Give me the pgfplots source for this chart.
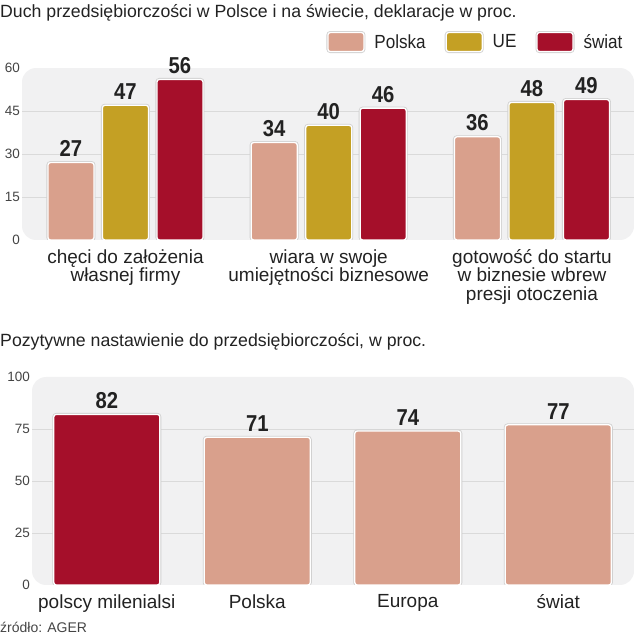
\documentclass[border=0pt]{standalone}
\usepackage{fontspec}
\setmainfont{Liberation Sans}
\newfontfamily\valfontfam[FakeStretch=0.88]{Liberation Sans Bold}
\newfontfamily\legfontfam[FakeStretch=0.9]{Liberation Sans}
\usepackage{pgfplots}
\pgfplotsset{compat=1.18}
\definecolor{cPL}{HTML}{D9A08C}
\definecolor{cUE}{HTML}{C4A024}
\definecolor{cSW}{HTML}{A50F2A}
\definecolor{panelc}{HTML}{F1F1F2}
\definecolor{gridc}{HTML}{DADADA}
\definecolor{tickc}{HTML}{444444}
\definecolor{txtc}{HTML}{222222}
\newcommand\valfont{\valfontfam\fontsize{23}{23}\selectfont}
\newcommand\catfont{\fontsize{19}{18.5}\selectfont}
\newcommand\legfont{\legfontfam\fontsize{19}{18.5}\selectfont}
\newcommand\tickfont{\fontsize{13.5}{14}\selectfont}
\newcommand\titlefont{\fontsize{17.7}{20}\selectfont}
\pgfplotsset{
  mybar/.style={fill=#1, draw=white, line width=1.3pt, rounded corners=2.5pt,
    preaction={draw=black!18, line width=3pt}},
  panel/.style={
    scale only axis, ybar,
    axis line style={draw=none}, tick style={draw=none},
    axis background/.style={fill=panelc, rounded corners=14pt},
    extra y tick style={grid=major, yticklabel={}},
    grid style={color=gridc, line width=0.8pt},
    yticklabel style={font=\tickfont, text=tickc, anchor=east, inner sep=0pt, xshift=-2pt},
    xticklabel style={font=\catfont, align=center, anchor=north, inner sep=0pt, yshift=-5pt, text=txtc},
    /pgf/number format/assume math mode=true,
    nodes near coords,
    every node near coord/.append style={font=\valfont, text=txtc, inner sep=0pt, yshift=5pt},
    legend image code/.code={\draw[#1,/tikz/.cd,rounded corners=2.5pt] (0pt,-9.5pt) rectangle (36pt,9.5pt);},
  }
}
\begin{document}
\begin{tikzpicture}
\useasboundingbox (0pt,0pt) rectangle (634pt,640pt);
\node[anchor=base west, inner sep=0pt, font=\titlefont, text=txtc] at (0pt,622pt) {Duch przedsiębiorczości w Polsce i na świecie, deklaracje w proc.};
\node[anchor=base west, inner sep=0pt, font=\titlefont, text=txtc] at (0pt,293pt) {Pozytywne nastawienie do przedsiębiorczości, w proc.};
\node[anchor=base west, inner sep=0pt, font=\fontsize{14}{16}\selectfont, text=tickc] at (0pt,7pt) {źródło: AGER};

\begin{axis}[panel,
  at={(22pt,400pt)}, anchor=south west,
  width=612pt, height=172pt,
  xmin=-0.509, xmax=2.502, ymin=0, ymax=60,
  ytick={0,15,30,45,60}, extra y ticks={15,30,45},
  xtick={0,1,2},
  xticklabels={{chęci do założenia\\własnej firmy},{wiara w swoje\\umiejętności biznesowe},{gotowość do startu\\w biznesie wbrew\\presji otoczenia}},
  bar width=46pt,
  legend columns=3,
  legend style={at={(0.988,1.151)}, anchor=east, draw=none, fill=none,
    font=\legfont, text=txtc, nodes={inner sep=1pt},
    /tikz/every even column/.style={column sep=18pt},
    /tikz/every odd column/.style={column sep=8pt}},
]
\addplot[mybar=cPL, bar shift=-54.5pt] coordinates {(0,27) (1,34) (2,36)};
\addplot[mybar=cUE, bar shift=0pt] coordinates {(0,47) (1,40) (2,48)};
\addplot[mybar=cSW, bar shift=54.5pt] coordinates {(0,56) (1,46) (2,49)};
\legend{Polska,UE,świat}
\end{axis}

\begin{axis}[panel,
  at={(32pt,55pt)}, anchor=south west,
  width=602pt, height=208pt,
  xmin=-0.497, xmax=3.503, ymin=0, ymax=100,
  ytick={0,25,50,75,100}, extra y ticks={25,50,75},
  xtick={0,1,2,3},
  xticklabels={polscy milenialsi,Polska,Europa,świat},
  bar width=106pt,
]
\addplot[mybar=cSW, bar shift=0pt] coordinates {(0,82)};
\addplot[mybar=cPL, bar shift=0pt] coordinates {(1,71) (2,74) (3,77)};
\end{axis}
\end{tikzpicture}
\end{document}
